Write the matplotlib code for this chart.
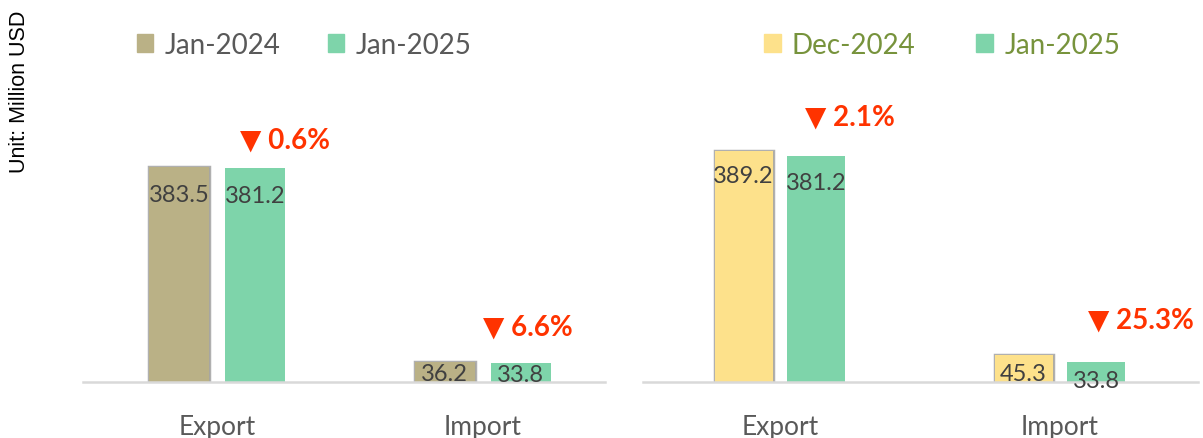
import matplotlib
matplotlib.use("Agg")
import matplotlib.pyplot as plt
import matplotlib.patheffects as pe
from matplotlib.patches import Patch
import numpy as np

categories = ["Export", "Import"]
left_series = ["Jan-2024", "Jan-2025"]
left_prev = [383.5, 36.2]
left_curr = [381.2, 33.8]
left_changes = ["▼ 0.6%", "▼ 6.6%"]

right_series = ["Dec-2024", "Jan-2025"]
right_prev = [389.2, 45.3]
right_curr = [381.2, 33.8]
right_changes = ["▼ 2.1%", "▼ 25.3%"]

unit_label = "Unit: Million USD"

C_KHAKI = "#BAB186"
C_GREEN = "#7ED4AA"
C_YELLOW = "#FDE18B"
C_TEXT = "#404040"
C_CAT = "#595959"
C_RED = "#FF3300"

plt.rcParams["font.family"] = ["Lato", "DejaVu Sans"]

W, H = 1203, 439
fig = plt.figure(figsize=(W / 100, H / 100), dpi=100)

def px_axes(x0, x1, ybase):
    return fig.add_axes([x0 / W, (H - ybase) / H, (x1 - x0) / W, ybase / H])

shadow = [pe.Stroke(linewidth=2.5, foreground="#3a3a3a", alpha=0.4), pe.Normal()]

def panel(ax, prev, curr, colors, xlim, ylim, width, offs, prev_offs, curr_offs, changes, change_pos):
    x = np.arange(len(categories))
    b1 = ax.bar(x - offs, prev, width, color=colors[0], zorder=3, path_effects=shadow)
    b2 = ax.bar(x + offs, curr, width, color=colors[1], zorder=3)
    ax.set_xlim(*xlim)
    ax.set_ylim(*ylim)
    for side in ["top", "right", "left"]:
        ax.spines[side].set_visible(False)
    ax.spines["bottom"].set_color("#D9D9D9")
    ax.spines["bottom"].set_linewidth(1.8)
    ax.spines["bottom"].set_zorder(4)
    ax.set_yticks([])
    ax.set_xticks(x)
    ax.set_xticklabels(categories, fontsize=19, color=C_CAT)
    ax.tick_params(axis="x", length=0, pad=23)
    ax.patch.set_alpha(0)
    for bars, vals, offsets in ((b1, prev, prev_offs), (b2, curr, curr_offs)):
        for bar, v, off in zip(bars, vals, offsets):
            ax.annotate(f"{v:.1f}", (bar.get_x() + bar.get_width() / 2, v),
                        xytext=(0, -off), textcoords="offset points",
                        ha="center", va="center", fontsize=17, color=C_TEXT, zorder=5)
    for txt, (cx, cy) in zip(changes, change_pos):
        ax.text(cx, cy, txt, ha="center", va="center", fontsize=20,
                fontweight="bold", color=C_RED, zorder=5)
    return b1, b2

axL = px_axes(83, 605, 383)
panel(axL, left_prev, left_curr, [C_KHAKI, C_GREEN],
      xlim=(-0.504, 1.46), ylim=(0, 683), width=0.226, offs=0.143,
      prev_offs=[19.5, 8.6], curr_offs=[19.5, 8],
      changes=left_changes, change_pos=[(0.256, 433), (1.17, 98)])

axR = px_axes(643, 1198, 383)
panel(axR, right_prev, right_curr, [C_YELLOW, C_GREEN],
      xlim=(-0.489, 1.493), ylim=(0, 646), width=0.207, offs=0.13,
      prev_offs=[17.5, 13], curr_offs=[19, 13],
      changes=right_changes, change_pos=[(0.25, 447), (1.29, 106)])

fig.legend(handles=[Patch(color=C_KHAKI), Patch(color=C_GREEN)], labels=left_series,
           loc="center", bbox_to_anchor=(304 / W, 1 - 46 / H), ncol=2, frameon=False,
           fontsize=20, handlelength=0.6, handleheight=0.6, handletextpad=0.4,
           columnspacing=1.7, labelcolor=C_CAT)
fig.legend(handles=[Patch(color=C_YELLOW), Patch(color=C_GREEN)], labels=right_series,
           loc="center", bbox_to_anchor=(942 / W, 1 - 46 / H), ncol=2, frameon=False,
           fontsize=20, handlelength=0.6, handleheight=0.6, handletextpad=0.4,
           columnspacing=2.2, labelcolor="#77933C")

fig.text(20 / W, 1 - 92 / H, unit_label, rotation=90, ha="center", va="center",
         fontsize=15.5, color="black", family=["Liberation Sans", "DejaVu Sans"])

fig.savefig("out.png", dpi=100)
